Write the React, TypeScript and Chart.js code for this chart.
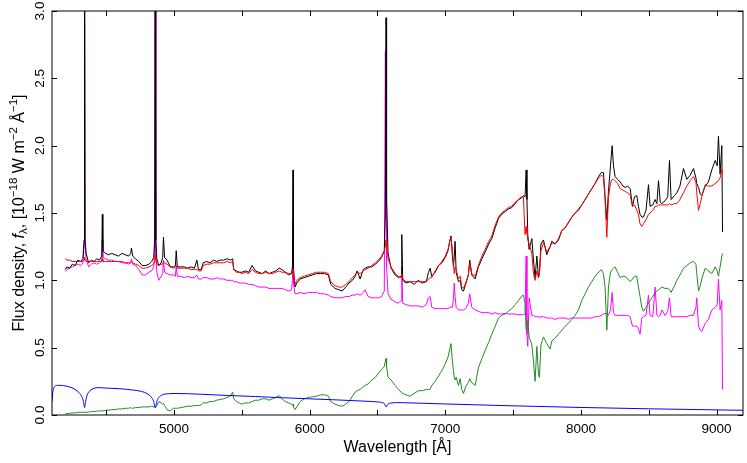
import { useEffect, useRef } from "react";
import { Chart, registerables } from "chart.js";

Chart.register(...registerables);

const FONT = "'Liberation Sans', Arial, Helvetica, sans-serif";

// common wavelength grid (Å) for the observed spectrum and the fitted components
const wavelength = [
  4198, 4210, 4230, 4250, 4270, 4290, 4310, 4328, 4336, 4340,
  4344, 4352, 4370, 4390, 4410, 4430, 4450, 4467, 4471, 4475,
  4495, 4515, 4540, 4565, 4590, 4615, 4640, 4665, 4680, 4686,
  4695, 4715, 4740, 4765, 4790, 4815, 4835, 4850, 4857, 4861,
  4865, 4873, 4887, 4905, 4916, 4922, 4930, 4948, 4973, 4995,
  5010, 5016, 5024, 5050, 5075, 5100, 5125, 5150, 5168, 5180,
  5200, 5215, 5240, 5265, 5290, 5315, 5340, 5365, 5390, 5415,
  5432, 5440, 5460, 5480, 5500, 5525, 5550, 5575, 5600, 5625,
  5650, 5675, 5700, 5725, 5750, 5775, 5796, 5820, 5845, 5866,
  5873, 5877, 5880, 5892, 5905, 5930, 5960, 5990, 6020, 6050,
  6080, 6110, 6138, 6155, 6187, 6215, 6240, 6265, 6290, 6315,
  6335, 6350, 6372, 6395, 6409, 6430, 6458, 6485, 6507, 6530,
  6550, 6558, 6563, 6567, 6578, 6600, 6630, 6655, 6674, 6679,
  6686, 6710, 6740, 6770, 6800, 6830, 6860, 6876, 6888, 6900,
  6925, 6950, 6975, 7000, 7020, 7035, 7042, 7052, 7060, 7066,
  7072, 7080, 7097, 7110, 7121, 7134, 7150, 7170, 7180, 7195,
  7220, 7244, 7270, 7294, 7320, 7343, 7368, 7392, 7416, 7441,
  7465, 7490, 7515, 7540, 7560, 7576, 7588, 7596, 7602, 7608,
  7618, 7638, 7650, 7662, 7675, 7687, 7694, 7705, 7724, 7748,
  7773, 7785, 7810, 7835, 7859, 7884, 7908, 7933, 7957, 7982,
  8006, 8031, 8055, 8080, 8105, 8129, 8150, 8166, 8178, 8191,
  8203, 8218, 8230, 8240, 8252, 8270, 8289, 8310, 8326, 8345,
  8363, 8380, 8395, 8412, 8424, 8436, 8449, 8461, 8480, 8498,
  8510, 8530, 8547, 8560, 8572, 8585, 8596, 8620, 8640, 8653,
  8665, 8690, 8707, 8730, 8756, 8781, 8805, 8830, 8848, 8854,
  8867, 8880, 8891, 8916, 8940, 8965, 8990, 9005, 9014, 9026,
  9039, 9044,
];

// observed spectrum (black)
const observed = [
  1.08, 1.10, 1.09, 1.12, 1.11, 1.15, 1.14, 1.16, 1.30, 3.60,
  1.30, 1.20, 1.13, 1.15, 1.14, 1.16, 1.15, 1.18, 1.49, 1.22,
  1.20, 1.19, 1.20, 1.19, 1.18, 1.20, 1.19, 1.18, 1.20, 1.24,
  1.18, 1.16, 1.14, 1.11, 1.11, 1.12, 1.14, 1.17, 1.30, 3.80,
  1.30, 1.16, 1.11, 1.13, 1.17, 1.32, 1.17, 1.15, 1.10, 1.10,
  1.11, 1.22, 1.10, 1.10, 1.10, 1.09, 1.10, 1.09, 1.15, 1.08,
  1.08, 1.13, 1.14, 1.13, 1.15, 1.14, 1.15, 1.15, 1.16, 1.15,
  1.16, 1.08, 1.07, 1.06, 1.06, 1.07, 1.06, 1.11, 1.07, 1.06,
  1.05, 1.07, 1.05, 1.06, 1.07, 1.09, 1.08, 1.06, 1.04, 1.05,
  1.10, 1.82, 1.10, 0.95, 0.98, 1.01, 1.02, 1.03, 1.04, 1.05,
  1.05, 1.05, 1.04, 0.97, 0.94, 0.93, 0.92, 0.95, 0.98, 1.00,
  1.03, 1.07, 1.01, 1.08, 1.09, 1.10, 1.10, 1.12, 1.14, 1.17,
  1.22, 1.50, 2.95, 1.60, 1.20, 1.09, 1.04, 1.02, 1.03, 1.34,
  1.00, 0.98, 0.99, 0.97, 1.00, 0.98, 0.99, 1.06, 1.09, 1.03,
  1.06, 1.11, 1.13, 1.17, 1.22, 1.30, 1.33, 1.18, 1.10, 1.18,
  1.29, 1.06, 0.99, 1.00, 0.93, 0.92, 0.97, 1.04, 1.15, 1.04,
  1.01, 1.10, 1.16, 1.21, 1.27, 1.31, 1.39, 1.46, 1.49, 1.51,
  1.53, 1.54, 1.57, 1.60, 1.61, 1.63, 1.62, 1.82, 1.60, 1.34,
  1.23, 1.31, 1.15, 1.02, 1.18, 1.02, 1.05, 1.27, 1.30, 1.19,
  1.25, 1.29, 1.27, 1.30, 1.37, 1.39, 1.43, 1.47, 1.50, 1.52,
  1.56, 1.60, 1.64, 1.68, 1.72, 1.77, 1.80, 1.80, 1.62, 1.45,
  1.66, 1.85, 2.00, 1.85, 1.77, 1.75, 1.73, 1.70, 1.69, 1.70,
  1.68, 1.55, 1.62, 1.63, 1.55, 1.49, 1.47, 1.47, 1.52, 1.71,
  1.55, 1.56, 1.60, 1.57, 1.74, 1.58, 1.57, 1.59, 1.62, 1.89,
  1.60, 1.63, 1.65, 1.70, 1.83, 1.75, 1.78, 1.83, 1.76, 1.72,
  1.69, 1.64, 1.63, 1.70, 1.73, 1.82, 1.89, 1.85, 2.07, 1.79,
  2.00, 1.36,
];

// total model (red)
const model = [
  1.16, 1.15, 1.15, 1.14, 1.14, 1.14, 1.14, 1.14, 1.15, 1.17,
  1.15, 1.14, 1.14, 1.14, 1.14, 1.14, 1.14, 1.14, 1.16, 1.14,
  1.14, 1.14, 1.14, 1.14, 1.14, 1.14, 1.13, 1.13, 1.13, 1.14,
  1.13, 1.12, 1.11, 1.09, 1.09, 1.10, 1.11, 1.12, 1.15, 1.19,
  1.15, 1.12, 1.11, 1.12, 1.12, 1.14, 1.13, 1.12, 1.10, 1.09,
  1.10, 1.11, 1.09, 1.09, 1.09, 1.09, 1.08, 1.08, 1.08, 1.07,
  1.07, 1.11, 1.12, 1.12, 1.13, 1.13, 1.13, 1.13, 1.14, 1.13,
  1.14, 1.08, 1.06, 1.06, 1.05, 1.06, 1.05, 1.08, 1.06, 1.05,
  1.05, 1.06, 1.05, 1.05, 1.06, 1.07, 1.06, 1.06, 1.05, 1.05,
  1.06, 1.08, 1.04, 0.97, 1.00, 1.02, 1.03, 1.04, 1.05, 1.06,
  1.06, 1.06, 1.05, 0.99, 0.96, 0.95, 0.95, 0.97, 0.99, 1.02,
  1.04, 1.06, 1.05, 1.07, 1.08, 1.09, 1.11, 1.13, 1.15, 1.18,
  1.22, 1.25, 1.30, 1.26, 1.16, 1.10, 1.05, 1.03, 1.02, 1.05,
  1.01, 0.99, 0.99, 0.99, 0.99, 0.99, 0.99, 1.01, 1.02, 1.02,
  1.07, 1.11, 1.14, 1.18, 1.23, 1.30, 1.32, 1.22, 1.13, 1.05,
  1.10, 1.08, 1.01, 1.03, 0.95, 0.94, 0.98, 1.04, 1.13, 1.05,
  1.03, 1.11, 1.18, 1.23, 1.29, 1.33, 1.41, 1.47, 1.50, 1.52,
  1.54, 1.55, 1.58, 1.60, 1.62, 1.62, 1.34, 1.40, 1.35, 1.30,
  1.27, 1.20, 1.05, 1.00, 1.07, 1.02, 1.05, 1.22, 1.28, 1.21,
  1.25, 1.28, 1.27, 1.31, 1.37, 1.39, 1.43, 1.47, 1.50, 1.53,
  1.56, 1.60, 1.64, 1.68, 1.72, 1.76, 1.78, 1.77, 1.60, 1.32,
  1.62, 1.72, 1.75, 1.75, 1.74, 1.72, 1.68, 1.67, 1.66, 1.65,
  1.63, 1.55, 1.56, 1.52, 1.49, 1.42, 1.40, 1.42, 1.45, 1.49,
  1.50, 1.52, 1.55, 1.55, 1.56, 1.56, 1.56, 1.56, 1.56, 1.57,
  1.56, 1.57, 1.57, 1.60, 1.65, 1.70, 1.74, 1.77, 1.73, 1.65,
  1.52, 1.57, 1.62, 1.71, 1.70, 1.70, 1.72, 1.73, 1.74, 1.76,
  1.82, 1.80,
];

// hot component (magenta)
const hot = [
  1.065, 1.08, 1.09, 1.10, 1.11, 1.12, 1.11, 1.13, 1.25, 3.40,
  1.25, 1.16, 1.10, 1.12, 1.13, 1.12, 1.13, 1.15, 1.30, 1.17,
  1.16, 1.15, 1.15, 1.14, 1.14, 1.13, 1.13, 1.12, 1.13, 1.16,
  1.12, 1.11, 1.08, 1.04, 1.04, 1.06, 1.07, 1.10, 1.20, 3.60,
  1.20, 1.06, 1.00, 1.03, 1.05, 1.15, 1.06, 1.05, 1.04, 1.04,
  1.03, 1.10, 1.03, 1.03, 1.02, 1.03, 1.02, 1.02, 1.04, 1.01,
  1.01, 1.02, 1.02, 1.01, 1.01, 1.02, 1.01, 1.01, 1.00, 1.00,
  1.00, 0.99, 0.99, 0.98, 0.98, 0.98, 0.97, 0.97, 0.96, 0.95,
  0.95, 0.95, 0.94, 0.94, 0.94, 0.94, 0.94, 0.93, 0.92, 0.93,
  1.00, 1.45, 0.98, 0.90, 0.90, 0.91, 0.90, 0.91, 0.91, 0.91,
  0.90, 0.90, 0.89, 0.88, 0.87, 0.87, 0.87, 0.88, 0.88, 0.89,
  0.89, 0.90, 0.89, 0.91, 0.93, 0.88, 0.87, 0.87, 0.87, 0.88,
  0.92, 2.70, 1.60, 1.10, 0.90, 0.86, 0.84, 0.83, 0.85, 1.10,
  0.83, 0.82, 0.81, 0.81, 0.81, 0.80, 0.82, 0.87, 0.88, 0.80,
  0.79, 0.79, 0.79, 0.79, 0.79, 0.80, 0.80, 0.80, 0.86, 0.98,
  0.88, 0.80, 0.78, 0.78, 0.78, 0.78, 0.79, 0.83, 0.90, 0.80,
  0.78, 0.77, 0.76, 0.76, 0.76, 0.75, 0.76, 0.75, 0.75, 0.755,
  0.75, 0.75, 0.75, 0.745, 0.745, 0.745, 0.75, 1.18, 0.60, 0.51,
  0.87, 0.74, 0.74, 0.73, 0.73, 0.73, 0.72, 0.73, 0.73, 0.72,
  0.72, 0.72, 0.71, 0.72, 0.72, 0.72, 0.71, 0.72, 0.72, 0.72,
  0.72, 0.72, 0.72, 0.72, 0.73, 0.73, 0.74, 0.75, 0.755, 0.75,
  0.74, 0.78, 0.91, 0.76, 0.74, 0.74, 0.74, 0.74, 0.74, 0.74,
  0.73, 0.66, 0.66, 0.66, 0.64, 0.60, 0.72, 0.73, 0.74, 0.89,
  0.74, 0.73, 0.95, 0.74, 0.73, 0.74, 0.78, 0.74, 0.77, 0.87,
  0.73, 0.73, 0.73, 0.73, 0.73, 0.73, 0.74, 0.74, 0.80, 0.87,
  0.66, 0.63, 0.62, 0.68, 0.71, 0.78, 0.80, 0.82, 1.01, 0.78,
  0.85, 0.19,
];

// cool component (green)
const cool = [
  0.010, 0.010, 0.012, 0.015, 0.015, 0.020, 0.020, 0.020, 0.020, 0.020,
  0.020, 0.020, 0.022, 0.025, 0.025, 0.030, 0.030, 0.030, 0.030, 0.030,
  0.035, 0.035, 0.040, 0.040, 0.045, 0.045, 0.050, 0.050, 0.055, 0.050,
  0.050, 0.055, 0.055, 0.060, 0.060, 0.060, 0.065, 0.060, 0.060, 0.055,
  0.060, 0.070, 0.100, 0.090, 0.080, 0.085, 0.070, 0.040, 0.030, 0.050,
  0.050, 0.050, 0.050, 0.055, 0.060, 0.065, 0.065, 0.070, 0.070, 0.070,
  0.075, 0.090, 0.090, 0.100, 0.100, 0.110, 0.115, 0.120, 0.130, 0.140,
  0.170, 0.120, 0.100, 0.090, 0.080, 0.090, 0.090, 0.100, 0.110, 0.110,
  0.120, 0.120, 0.110, 0.120, 0.130, 0.145, 0.120, 0.100, 0.090, 0.080,
  0.080, 0.080, 0.060, 0.040, 0.060, 0.100, 0.120, 0.130, 0.135, 0.140,
  0.150, 0.150, 0.140, 0.100, 0.080, 0.070, 0.065, 0.080, 0.100, 0.140,
  0.170, 0.180, 0.190, 0.210, 0.220, 0.230, 0.260, 0.280, 0.310, 0.340,
  0.360, 0.400, 0.420, 0.360, 0.280, 0.260, 0.220, 0.190, 0.170, 0.170,
  0.160, 0.150, 0.140, 0.160, 0.180, 0.180, 0.190, 0.190, 0.190, 0.220,
  0.250, 0.290, 0.330, 0.380, 0.430, 0.500, 0.530, 0.400, 0.330, 0.280,
  0.260, 0.280, 0.220, 0.270, 0.190, 0.160, 0.210, 0.240, 0.270, 0.240,
  0.220, 0.350, 0.420, 0.480, 0.540, 0.600, 0.660, 0.720, 0.740, 0.750,
  0.770, 0.790, 0.820, 0.850, 0.880, 0.890, 0.830, 0.630, 0.660, 0.700,
  0.580, 0.520, 0.400, 0.250, 0.510, 0.300, 0.280, 0.520, 0.580, 0.530,
  0.490, 0.550, 0.570, 0.600, 0.630, 0.660, 0.680, 0.710, 0.740, 0.780,
  0.850, 0.900, 0.950, 0.990, 1.030, 1.060, 1.080, 1.050, 0.950, 0.630,
  0.950, 1.060, 1.080, 1.090, 1.100, 1.060, 1.020, 1.030, 1.030, 1.010,
  0.990, 1.010, 1.030, 1.030, 0.950, 0.880, 0.800, 0.770, 0.800, 0.830,
  0.850, 0.880, 0.910, 0.920, 0.930, 0.940, 0.950, 0.940, 0.940, 0.930,
  0.910, 0.960, 1.000, 1.040, 1.090, 1.110, 1.130, 1.140, 1.120, 1.050,
  0.920, 0.960, 1.010, 1.090, 1.070, 1.050, 1.100, 1.070, 1.030, 1.100,
  1.180, 1.200,
];

// smooth blue component with Balmer absorption
const blueWave = [
  4100, 4104, 4110, 4120, 4140, 4170, 4200, 4240, 4270, 4300,
  4320, 4332, 4340, 4348, 4360, 4380, 4410, 4440, 4500, 4600,
  4700, 4760, 4800, 4830, 4848, 4861, 4874, 4892, 4920, 4960,
  5000, 5200, 5400, 5600, 5800, 6000, 6200, 6400, 6500, 6530,
  6550, 6563, 6576, 6600, 6640, 6700, 7000, 7500, 8000, 8500,
  9000, 9195,
];
const blueFlux = [
  0.10, 0.15, 0.19, 0.212, 0.22, 0.22, 0.215, 0.205, 0.19, 0.165,
  0.135, 0.10, 0.055, 0.10, 0.15, 0.18, 0.198, 0.203, 0.20, 0.195,
  0.185, 0.175, 0.16, 0.135, 0.105, 0.055, 0.105, 0.135, 0.152, 0.158,
  0.16, 0.154, 0.145, 0.137, 0.128, 0.12, 0.112, 0.103, 0.097, 0.093,
  0.085, 0.06, 0.08, 0.088, 0.092, 0.091, 0.082, 0.068, 0.056, 0.046,
  0.038, 0.035,
];

const xTicks = [4500, 5000, 5500, 6000, 6500, 7000, 7500, 8000, 8500, 9000];
const yTicks = [0, 0.5, 1, 1.5, 2, 2.5, 3];

function toPoints(xs: number[], ys: number[]) {
  return xs.map((x, i) => ({ x, y: ys[i] }));
}

// frame, inward ticks, rotated y labels and the y title with super/subscripts
const framePlugin = {
  id: "frame",
  afterDraw(chart: any) {
    const { ctx, chartArea: a, scales } = chart;
    const xs = scales.x;
    const ys = scales.y;
    ctx.save();
    ctx.strokeStyle = "#000";
    ctx.lineWidth = 1;
    ctx.strokeRect(a.left, a.top, a.right - a.left, a.bottom - a.top);
    ctx.beginPath();
    for (const v of xTicks) {
      const px = Math.round(xs.getPixelForValue(v)) + 0.5;
      ctx.moveTo(px, a.bottom);
      ctx.lineTo(px, a.bottom - 5);
      ctx.moveTo(px, a.top);
      ctx.lineTo(px, a.top + 5);
    }
    for (const v of yTicks) {
      const py = Math.round(ys.getPixelForValue(v)) + 0.5;
      ctx.moveTo(a.left, py);
      ctx.lineTo(a.left + 5, py);
      ctx.moveTo(a.right, py);
      ctx.lineTo(a.right - 5, py);
    }
    ctx.stroke();

    ctx.fillStyle = "#000";
    ctx.font = `13.5px ${FONT}`;
    ctx.textBaseline = "alphabetic";
    ctx.textAlign = "center";
    for (const v of yTicks) {
      const py = ys.getPixelForValue(v);
      ctx.save();
      ctx.translate(44, py);
      ctx.rotate(-Math.PI / 2);
      ctx.fillText(v.toFixed(1), 0, 0);
      ctx.restore();
    }

    const big = `16px ${FONT}`;
    const small = `11.5px ${FONT}`;
    const pieces = [
      { t: "Flux density, ", f: big, dy: 0 },
      { t: "f", f: `italic 16px ${FONT}`, dy: 0 },
      { t: "λ", f: small, dy: 3.5 },
      { t: ", [10", f: big, dy: 0 },
      { t: "−18", f: small, dy: -6.5 },
      { t: " W m", f: big, dy: 0 },
      { t: "−2", f: small, dy: -6.5 },
      { t: " Å", f: big, dy: 0 },
      { t: "−1", f: small, dy: -6.5 },
      { t: "]", f: big, dy: 0 },
    ];
    let total = 0;
    const widths = pieces.map((p) => {
      ctx.font = p.f;
      const w = ctx.measureText(p.t).width;
      total += w;
      return w;
    });
    ctx.save();
    ctx.translate(23.5, (a.top + a.bottom) / 2);
    ctx.rotate(-Math.PI / 2);
    ctx.textAlign = "left";
    let cx = -total / 2;
    pieces.forEach((p, i) => {
      ctx.font = p.f;
      ctx.fillText(p.t, cx, p.dy);
      cx += widths[i];
    });
    ctx.restore();
    ctx.restore();
  },
};

export default function App() {
  const canvasRef = useRef<HTMLCanvasElement | null>(null);

  useEffect(() => {
    if (!canvasRef.current) return;

    const line = (label: string, data: { x: number; y: number }[], color: string, smooth = false) => ({
      label,
      data,
      borderColor: color,
      backgroundColor: color,
      borderWidth: 1,
      pointRadius: 0,
      fill: false,
      tension: 0,
      cubicInterpolationMode: smooth ? ("monotone" as const) : ("default" as const),
    });

    // chart.js paints the last dataset first: magenta at the bottom, blue on top
    const chart = new Chart(canvasRef.current, {
      type: "line",
      data: {
        datasets: [
          line("Blue component", toPoints(blueWave, blueFlux), "#0000ff", true),
          line("Cool component", toPoints(wavelength, cool), "#228b22"),
          line("Model", toPoints(wavelength, model), "#ff0000"),
          line("Observed", toPoints(wavelength, observed), "#000000"),
          line("Hot component", toPoints(wavelength, hot), "#ff00ff"),
        ],
      },
      options: {
        animation: false,
        responsive: true,
        maintainAspectRatio: false,
        layout: { padding: { top: 11, right: 4, left: 0, bottom: 0 } },
        plugins: {
          legend: { display: false },
          tooltip: { enabled: false },
        },
        scales: {
          x: {
            type: "linear",
            min: 4100,
            max: 9195,
            grid: { display: false, drawTicks: false },
            border: { display: false },
            afterBuildTicks: (scale: any) => {
              scale.ticks = xTicks.map((value) => ({ value }));
            },
            afterFit: (scale: any) => {
              scale.height = 48;
            },
            ticks: {
              autoSkip: false,
              maxRotation: 0,
              padding: 6,
              color: "#000",
              font: { family: FONT, size: 13.5 },
              callback: (v: any) => (Number(v) % 1000 === 0 ? String(v) : ""),
            },
            title: {
              display: true,
              text: "Wavelength [Å]",
              color: "#000",
              font: { family: FONT, size: 16 },
              padding: { top: 0, bottom: 6 },
            },
          },
          y: {
            type: "linear",
            min: 0,
            max: 3,
            grid: { display: false, drawTicks: false },
            border: { display: false },
            ticks: { display: false },
            afterBuildTicks: (scale: any) => {
              scale.ticks = yTicks.map((value) => ({ value }));
            },
            afterFit: (scale: any) => {
              scale.width = 52;
            },
          },
        },
      },
      plugins: [framePlugin],
    });

    return () => chart.destroy();
  }, []);

  return (
    <div style={{ position: "fixed", left: 0, top: 0, width: 747, height: 463, background: "#fff" }}>
      <canvas ref={canvasRef} />
    </div>
  );
}
